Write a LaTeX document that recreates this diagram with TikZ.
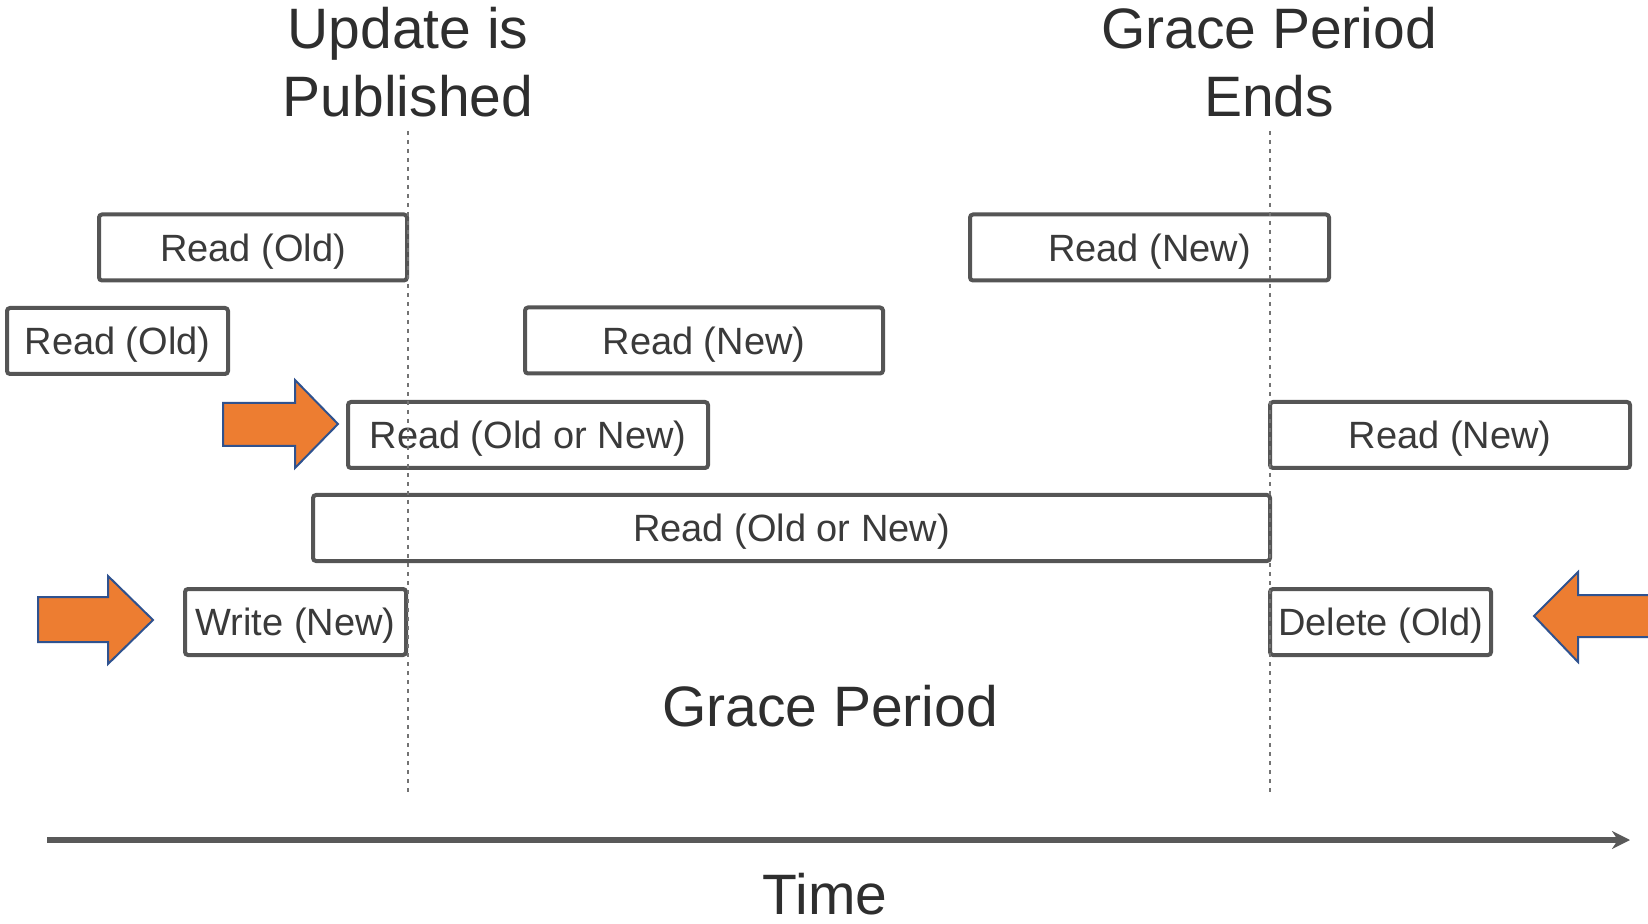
\documentclass[tikz,border=0pt]{standalone}
\usepackage{fontspec}
\setmainfont{Liberation Sans}
\usetikzlibrary{arrows.meta}
\definecolor{boxline}{HTML}{555555}
\definecolor{boxtext}{HTML}{3A3A3A}
\definecolor{headtext}{HTML}{2E2E2E}
\definecolor{arrowfill}{HTML}{ED7D31}
\definecolor{arrowline}{HTML}{2F528F}
\tikzset{
  opbox/.style={draw=boxline, line width=2pt, rounded corners=1.5pt, fill=white,
    minimum height=33pt, inner sep=0pt, text=boxtext, text height=13.6pt, text depth=0pt,
    font=\fontsize{19}{22}\selectfont},
  headlabel/.style={text=headtext, align=center, inner sep=0pt,
    font=\fontsize{28.5}{34}\selectfont},
  guide/.style={draw=black!55, line width=1.3pt, dash pattern=on 2pt off 2.5pt},
  blockarrow/.style={fill=arrowfill, draw=arrowline, line width=1pt, line join=miter},
  timeline/.style={draw=black!65, line width=3pt, -{Stealth[length=9pt,width=9pt]}}
}
\begin{document}
\begin{tikzpicture}[x=0.5pt,y=-0.5pt]
\useasboundingbox (0,0) rectangle (1648,924);
\begin{scope}
\clip (0,0) rectangle (1648,924);
% guide lines
\coordinate (g1t) at (408,131); \coordinate (g1b) at (408,795);
\coordinate (g2t) at (1270,131); \coordinate (g2b) at (1270,795);
% headings
\node[headlabel] (hpub) at (408,62) {Update is\\Published};
\node[headlabel] (hend) at (1269,62) {Grace Period\\Ends};
\node[headlabel] (hgp) at (830,706) {Grace Period};
% boxes
\node[opbox, minimum width=154pt] (r1) at (253,247.5) {Read (Old)};
\node[opbox, minimum width=110.5pt] (r2) at (117.5,341) {Read (Old)};
\node[opbox, minimum width=180pt] (r3) at (528,435) {Read (Old or New)};
\node[opbox, minimum width=478.5pt] (r4) at (791.5,528) {Read (Old or New)};
\node[opbox, minimum width=110.5pt] (w) at (295.5,622) {Write (New)};
\node[opbox, minimum width=179.5pt] (r5) at (1149.5,247.5) {Read (New)};
\node[opbox, minimum width=179pt] (r6) at (704,340.5) {Read (New)};
\node[opbox, minimum width=180pt] (r7) at (1450,435) {Read (New)};
\node[opbox, minimum width=110.5pt] (d) at (1380.5,622) {Delete (Old)};
% dotted guides pass through the boxes
\draw[guide] (g1t) -- (g1b);
\draw[guide] (g2t) -- (g2b);
% block arrows
\draw[blockarrow] (223,403) -- (295,403) -- (295,380) -- (338,424) -- (295,468) -- (295,446) -- (223,446) -- cycle;
\draw[blockarrow] (38,597) -- (108,597) -- (108,576) -- (153,620) -- (108,664) -- (108,642) -- (38,642) -- cycle;
\draw[blockarrow] (1660,595) -- (1578,595) -- (1578,572) -- (1534,616) -- (1578,662) -- (1578,637) -- (1660,637) -- cycle;
% time axis
\coordinate (t0) at (47,840);
\coordinate (t1) at (1630,840);
\draw[timeline] (t0) -- (t1);
\node[headlabel, anchor=base] (time) at (825,914) {Time};
\end{scope}
\end{tikzpicture}
\end{document}
